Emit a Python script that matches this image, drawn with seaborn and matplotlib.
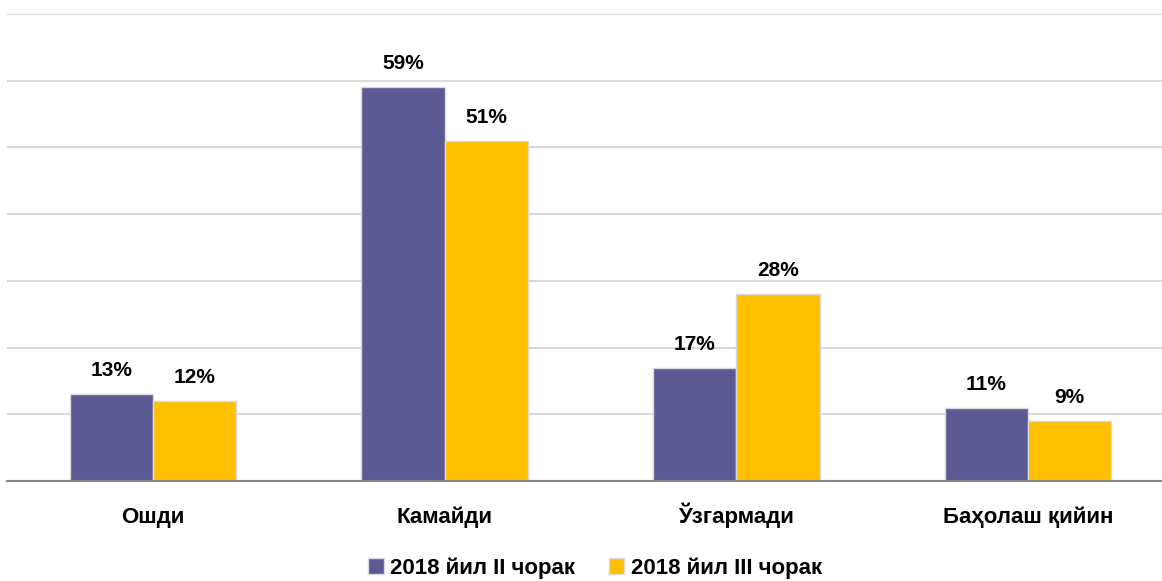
import matplotlib
matplotlib.use("Agg")
import matplotlib.pyplot as plt
import seaborn as sns
import pandas as pd
from matplotlib.patches import Patch

categories = ["Ошди", "Камайди", "Ўзгармади", "Баҳолаш қийин"]
series_names = ["2018 йил II чорак", "2018 йил III чорак"]
q2_values = [13, 59, 17, 11]
q3_values = [12, 51, 28, 9]
colors = ["#5A5B94", "#FFC000"]

df = pd.DataFrame({
    "category": categories * 2,
    "series": [series_names[0]] * 4 + [series_names[1]] * 4,
    "value": q2_values + q3_values,
})

sns.set_theme(style="white")
plt.rcParams["font.family"] = ["Liberation Sans", "DejaVu Sans"]

fig = plt.figure(figsize=(11.62, 5.81), dpi=100)
ax = fig.add_axes([7 / 1162, 100 / 581, 1167 / 1162, 467 / 581])

sns.barplot(data=df, x="category", y="value", hue="series", palette=colors,
            width=0.57, gap=0, ax=ax, legend=False,
            edgecolor="#d9d9d9", linewidth=1.0, saturation=1)

ax.set_ylim(0, 70)
ax.set_yticks(range(0, 71, 10))
ax.yaxis.grid(True, color="#d9d9d9", linewidth=1.5)
ax.set_axisbelow(True)
ax.set_yticklabels([])
ax.tick_params(axis="y", length=0)
ax.tick_params(axis="x", length=0, pad=30)
for lbl in ax.get_xticklabels():
    lbl.set_fontsize(16)
    lbl.set_fontweight("bold")
    lbl.set_color("#000000")
    lbl.set_verticalalignment("baseline")
ax.set_xlabel("")
ax.set_ylabel("")
for s in ["top", "right", "left"]:
    ax.spines[s].set_visible(False)
ax.spines["bottom"].set_color("#898989")
ax.spines["bottom"].set_linewidth(1.5)

for cont in ax.containers:
    ax.bar_label(cont, labels=[f"{int(v)}%" for v in cont.datavalues],
                 padding=10, fontsize=15, fontweight="bold", color="#000000")

handles = [Patch(facecolor=colors[0], edgecolor="#d9d9d9"),
           Patch(facecolor=colors[1], edgecolor="#d9d9d9")]
fig.legend(handles, series_names, loc="center", bbox_to_anchor=(595 / 1162, 13 / 581),
           ncol=2, frameon=False, prop={"size": 16, "weight": "bold"},
           labelcolor="#000000",
           handlelength=0.7, handleheight=0.7, handletextpad=0.3, columnspacing=1.5)

fig.savefig("out.png", dpi=100)
